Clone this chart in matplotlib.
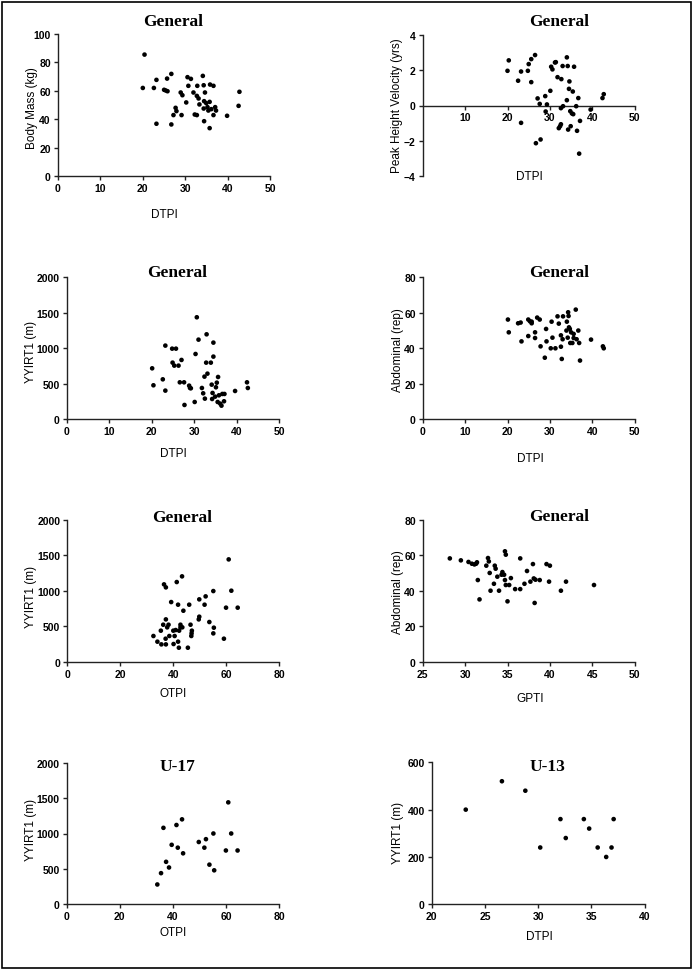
import matplotlib
matplotlib.use("Agg")
import matplotlib.pyplot as plt
from matplotlib.patches import Rectangle
from matplotlib import font_manager

W, H = 693, 970
names = {f.name for f in font_manager.fontManager.ttflist}
SANS = "Liberation Sans" if "Liberation Sans" in names else "DejaVu Sans"
SERIF = "Liberation Serif" if "Liberation Serif" in names else "DejaVu Serif"

# ---------------- data ----------------
# Panel 1: Body Mass vs DTPI
dtpi_bm = [20.4, 20.0, 22.6, 23.2, 23.2, 25.7, 26.7, 25.0,
           25.4, 25.8, 26.7, 27.2, 27.7, 27.9, 29.1, 28.9,
           29.3, 30.2, 30.5, 31.3, 30.7, 31.9, 32.2, 32.7,
           32.7, 33.1, 32.8, 33.3, 34.1, 34.3, 34.6, 34.3,
           34.4, 34.4, 34.9, 35.2, 35.4, 35.7, 35.8, 35.7,
           36.1, 36.6, 36.6, 37.0, 37.2, 39.8, 42.5, 42.7]
body_mass = [85.5, 62.0, 62.0, 67.7, 36.8, 68.6, 71.9, 60.7,
             60.2, 59.7, 36.3, 42.9, 48.0, 45.7, 42.9, 58.8,
             56.9, 51.8, 69.6, 68.4, 63.5, 58.8, 43.3, 42.9,
             56.4, 54.6, 63.5, 50.4, 70.5, 63.9, 58.8, 47.5,
             38.6, 52.7, 51.3, 48.5, 46.1, 52.2, 64.4, 33.7,
             47.1, 63.5, 42.9, 48.5, 46.1, 42.4, 49.4, 59.3]

# Panel 2: Peak Height Velocity vs DTPI
dtpi_phv = [20.0, 20.3, 22.5, 23.2, 23.2, 24.8, 25.0, 25.6, 25.6, 26.5,
            26.7, 27.1, 27.6, 27.8, 28.9, 29.0, 29.3, 30.1, 30.3, 30.6,
            31.2, 31.4, 31.8, 32.1, 32.4, 32.6, 32.7, 32.6, 33.0, 33.1,
            34.0, 34.0, 34.2, 34.3, 34.5, 34.6, 34.8, 34.9, 35.2, 35.4,
            35.5, 35.7, 36.2, 36.4, 36.7, 37.1, 36.9, 39.6, 42.4, 42.7]
phv = [1.96, 2.55, 1.40, 1.92, -0.98, 1.96, 2.34, 2.62, 1.32, 2.85,
       -2.13, 0.40, 0.09, -1.92, 0.53, -0.34, 0.06, 0.83, 2.19, 2.04,
       2.43, 2.45, 1.60, -1.28, -1.17, -1.06, 1.49, -0.15, 2.23, -0.04,
       2.72, 0.30, 2.23, -1.36, 0.94, 1.36, -0.32, -1.17, -0.45, 0.79,
       -0.49, 2.19, -0.04, -1.43, 0.42, -0.87, -2.72, -0.23, 0.42, 0.64]

# Panel 3: YYIRT1 vs DTPI
dtpi_yy = [20.1, 20.4, 22.6, 23.2, 23.2, 24.8, 25.7, 24.9, 25.3, 26.3,
           26.6, 27.0, 27.6, 27.7, 28.8, 29.0, 29.2, 30.1, 30.3, 30.6,
           31.0, 31.8, 32.1, 32.4, 32.5, 32.8, 32.9, 33.1, 33.9, 34.1,
           34.2, 34.3, 34.5, 34.5, 34.9, 35.1, 35.3, 35.6, 35.5, 35.8,
           36.1, 36.4, 36.6, 37.0, 37.1, 39.6, 42.4, 42.6]
yyirt_dtpi = [718, 479, 563, 404, 1038, 995, 995, 798, 756, 756,
              521, 836, 521, 202, 474, 441, 437, 244, 920, 1437,
              1122, 441, 366, 601, 291, 798, 1197, 643, 798, 488,
              286, 371, 883, 1080, 319, 451, 516, 596, 244, 338,
              221, 192, 357, 254, 357, 399, 521, 441]

# Panel 4: Abdominal vs DTPI
dtpi_ab = [20.1, 20.3, 22.5, 23.1, 23.3, 24.9, 24.9, 25.3, 25.7, 25.7,
           26.5, 26.5, 27.0, 27.6, 27.8, 28.8, 29.1, 29.2, 30.2, 30.4,
           30.6, 31.3, 31.8, 32.1, 32.6, 32.6, 32.8, 33.0, 33.1, 34.0,
           33.9, 34.2, 34.3, 34.4, 34.5, 34.7, 34.8, 35.0, 35.3, 35.6,
           35.6, 36.1, 36.3, 36.7, 36.9, 37.1, 39.7, 42.5, 42.7]
abdominal_dtpi = [56.2, 49.0, 54.1, 54.5, 43.9, 56.2, 46.9, 55.2, 54.1, 55.0,
                  49.0, 45.8, 57.3, 56.2, 41.1, 34.7, 50.9, 43.9, 40.0, 55.0,
                  46.0, 40.0, 58.0, 53.9, 40.9, 47.3, 34.0, 45.1, 58.0, 55.0,
                  50.0, 46.0, 60.3, 58.2, 51.8, 50.9, 43.0, 49.0, 43.0, 48.1,
                  45.8, 61.8, 45.1, 50.0, 43.0, 33.1, 44.9, 41.1, 40.0]

# Panel 5: YYIRT1 vs OTPI
otpi_all = [32.5, 34.0, 35.3, 35.5, 36.2, 36.5, 37.2, 37.2, 37.1, 37.2,
            37.7, 38.2, 38.5, 39.2, 40.0, 40.1, 40.5, 40.9, 41.3, 41.8,
            41.8, 42.1, 42.2, 42.7, 42.7, 43.3, 43.4, 43.8, 45.5, 46.0,
            46.5, 46.8, 46.9, 47.0, 49.6, 49.8, 49.8, 51.8, 52.2, 53.6,
            55.1, 55.1, 55.3, 59.1, 59.9, 60.9, 61.9, 64.3]
yyirt_otpi = [362, 282, 437, 244, 521, 1089, 1047, 596, 324, 244,
              484, 521, 362, 840, 437, 249, 362, 446, 1122, 803,
              282, 197, 437, 521, 484, 1202, 484, 718, 197, 803,
              521, 362, 399, 437, 596, 634, 878, 803, 920, 559,
              995, 399, 479, 324, 761, 1441, 1000, 761]

# Panel 6: Abdominal vs GPTI
gpti = [28.2, 29.5, 30.4, 30.8, 31.1, 31.3, 31.4, 31.5, 31.7, 32.5,
        32.7, 32.8, 32.9, 33.0, 33.4, 33.5, 33.6, 33.8, 34.0, 34.3,
        34.4, 34.6, 34.7, 34.7, 34.8, 34.8, 35.0, 35.2, 35.4, 35.9,
        36.5, 36.5, 37.0, 37.3, 37.7, 38.0, 38.1, 38.2, 38.3, 38.8,
        39.6, 40.0, 39.9, 41.3, 41.9, 45.2]
abdominal_gpti = [58.2, 57.1, 56.2, 55.2, 54.8, 55.2, 56.0, 46.0, 35.1, 54.1,
                  58.4, 56.5, 50.0, 40.0, 43.9, 54.1, 52.4, 47.9, 40.0, 49.0,
                  50.5, 49.0, 62.2, 46.0, 60.3, 43.2, 34.0, 43.2, 47.1, 40.9,
                  40.9, 58.2, 43.9, 51.1, 45.1, 55.0, 46.9, 33.1, 46.2, 46.0,
                  55.0, 54.1, 45.1, 40.0, 45.1, 43.2]

# Panel 7: U-17 YYIRT1 vs OTPI
otpi_u17 = [34.1, 35.5, 36.4, 37.4, 38.5, 39.5, 41.3, 41.8, 43.4, 43.8,
            49.7, 51.8, 52.4, 53.7, 55.2, 55.5, 59.9, 60.8, 61.9, 64.3]
yyirt_u17 = [280, 440, 1080, 600, 520, 840, 1120, 800, 1200, 720,
             880, 800, 920, 560, 1000, 480, 760, 1440, 1000, 760]

# Panel 8: U-13 YYIRT1 vs DTPI
dtpi_u13 = [23.2, 26.6, 28.8, 30.2, 32.1, 32.6, 34.3, 34.8, 35.6, 36.4, 36.9, 37.1]
yyirt_u13 = [400, 520, 480, 240, 360, 280, 360, 320, 240, 200, 240, 360]

# ---------------- figure ----------------
fig = plt.figure(figsize=(W / 100, H / 100), dpi=100)
fig.patches.append(Rectangle((1.5 / W, 1.5 / H), (W - 4) / W, (H - 4) / H,
                             transform=fig.transFigure, fill=False,
                             edgecolor="black", linewidth=1.2))

TICK_FS = 7.5
LAB_FS = 8.5


def make_axes(rect_px, xs, ys, xlim, xticks, ylim, yticks, ylabel, xlabel,
              title, title_px, ylab_px, xlab_px, zero_axis=False):
    l, t, r, b = rect_px
    ax = fig.add_axes([l / W, 1 - b / H, (r - l) / W, (b - t) / H])
    ax.scatter(xs, ys, s=11, color="black", edgecolors="none", zorder=3,
               clip_on=False)
    ax.set_xlim(*xlim)
    ax.set_ylim(*ylim)
    ax.set_xticks(xticks)
    ax.set_yticks(yticks)
    for s in ("top", "right"):
        ax.spines[s].set_visible(False)
    for s in ("left", "bottom"):
        ax.spines[s].set_linewidth(1.0)
        ax.spines[s].set_color("#222222")
    if zero_axis:
        ax.spines["bottom"].set_position(("data", 0))
    ax.tick_params(axis="both", direction="out", length=3, width=1.0,
                   color="#222222", labelsize=TICK_FS, pad=2)
    for lab in ax.get_xticklabels() + ax.get_yticklabels():
        lab.set_fontfamily(SANS)
        lab.set_fontweight("bold")
    w, h = r - l, b - t
    ax.set_ylabel(ylabel, fontsize=LAB_FS, family=SANS, va="center")
    ax.yaxis.set_label_coords((ylab_px[0] - l) / w, (b - ylab_px[1]) / h)
    ax.set_xlabel(xlabel, fontsize=LAB_FS, family=SANS, va="center")
    ax.xaxis.set_label_coords((xlab_px[0] - l) / w, (b - xlab_px[1]) / h)
    ax.set_title(title, family=SERIF, fontweight="bold", fontsize=12.5,
                 x=(title_px[0] - l) / w, y=(b - title_px[1]) / h,
                 va="center", ha="center")
    ax.patch.set_alpha(0)
    return ax


make_axes((57.7, 35, 270.5, 177), dtpi_bm, body_mass, (0, 50), range(0, 51, 10),
          (0, 100), range(0, 101, 20), "Body Mass (kg)", "DTPI", "General",
          (173, 30), (31.5, 108), (164, 215.5))

make_axes((422.7, 35.7, 634.7, 177.3), dtpi_phv, phv, (0, 50), range(10, 51, 10),
          (-4, 4), range(-4, 5, 2), "Peak Height Velocity (yrs)", "DTPI", "General",
          (559, 30), (397.3, 106), (529, 177.5), zero_axis=True)

make_axes((66.7, 278.3, 279.3, 420.3), dtpi_yy, yyirt_dtpi, (0, 50), range(0, 51, 10),
          (0, 2000), range(0, 2001, 500), "YYIRT1 (m)", "DTPI", "General",
          (177, 281.7), (31.0, 352), (173.5, 454))

make_axes((422.7, 278.3, 634.7, 420.3), dtpi_ab, abdominal_dtpi, (0, 50), range(0, 51, 10),
          (0, 80), range(0, 81, 20), "Abdominal (rep)", "DTPI", "General",
          (559, 281.7), (397.7, 350), (530, 459))

make_axes((67.3, 520.7, 279.3, 662.7), otpi_all, yyirt_otpi, (0, 80), range(0, 81, 20),
          (0, 2000), range(0, 2001, 500), "YYIRT1 (m)", "OTPI", "General",
          (182, 526.5), (31.0, 597), (173.5, 694))

make_axes((422.7, 520.7, 634.7, 662.7), gpti, abdominal_gpti, (25, 50), range(25, 51, 5),
          (0, 80), range(0, 81, 20), "Abdominal (rep)", "GPTI", "General",
          (559, 525.7), (397.7, 592), (530, 699))

make_axes((66.7, 763.7, 279.3, 905.3), otpi_u17, yyirt_u17, (0, 80), range(0, 81, 20),
          (0, 2000), range(0, 2001, 500), "YYIRT1 (m)", "OTPI", "U-17",
          (177, 775), (31.0, 830), (173.5, 933))

make_axes((431.7, 763.3, 644.5, 905.3), dtpi_u13, yyirt_u13, (20, 40), range(20, 41, 5),
          (0, 600), range(0, 601, 200), "YYIRT1 (m)", "DTPI", "U-13",
          (547, 775), (397.7, 833), (539, 937.5))

fig.savefig("out.png", dpi=100)
